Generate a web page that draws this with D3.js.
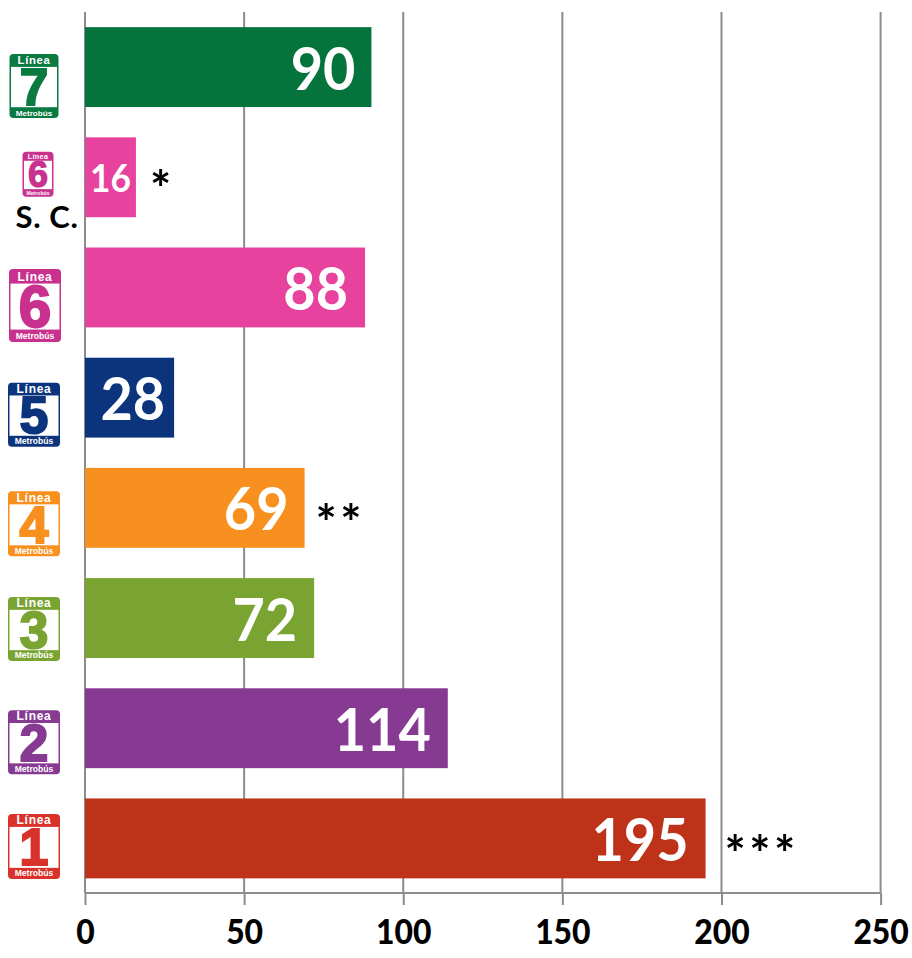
<!DOCTYPE html>
<html>
<head>
<meta charset="utf-8">
<script src="https://cdn.jsdelivr.net/npm/d3@7"></script>
<style>
html, body { margin: 0; padding: 0; background: #fff; }
svg { display: block; }
text { font-family: Lato, "Open Sans", sans-serif; font-weight: 700; }
</style>
</head>
<body>
<div id="chart"></div>
<script>
// Data, top to bottom
let lines = ["7", "6 S. C.", "6", "5", "4", "3", "2", "1"];
let values = [90, 16, 88, 28, 69, 72, 114, 195];
let notes = ["", "*", "", "", "**", "", "", "***"];
let barColors = ["#05733c", "#e8429f", "#e8429f", "#0c347d", "#f7901e", "#7aa432", "#873a92", "#bf321a"];
let badgeColors = ["#0a7a41", "#c9318f", "#c9318f", "#0c347d", "#f7901e", "#7aa432", "#873a92", "#d8322a"];
let ticks = [0, 50, 100, 150, 200, 250];

// badge box: width, height, centre x, offset from bar centre
let badgeBoxes = [
    [49, 64, 34, 19],
    [31, 45, 38, -3],
    [52, 73, 35, 18],
    [52, 64, 34, 17],
    [52, 65, 34, 16],
    [52, 64, 34, 11],
    [52, 64, 34, 14],
    [52, 65, 34, 8]
];
// note placement: gap after the bar, offset from bar centre
let noteOffsets = [[0, 0], [14, 30], [0, 0], [0, 0], [11, 33], [0, 0], [0, 0], [19, 34]];
// gap between the value label and the bar end
let labelGaps = [16, 5, 17, 9, 16, 17, 17, 17];

//dimensions
let width = 912;
let height = 958;

let svg = d3.select("#chart")
    .append("svg")
    .attr("width", width)
    .attr("height", height);

let x = d3.scaleLinear().domain([0, 250]).range([85, 880.6]);
let y = d3.scaleBand()
    .domain(lines)
    .range([12, 893.5])
    .paddingInner(0.275)
    .paddingOuter(0.1375);

/**
 * Grid lines and axis
 */
let axis = d3.axisBottom(x)
    .tickValues(ticks)
    .tickSize(12)
    .tickPadding(14)
    .tickFormat(d3.format("d"));

let axisG = svg.append("g")
    .attr("transform", "translate(0,893)")
    .call(axis);
axisG.select(".domain").attr("stroke", "#8c8c8c").attr("stroke-width", 2).attr("d", "M85,0H880");
axisG.selectAll(".tick line").attr("stroke", "#8c8c8c").attr("stroke-width", 2);
axisG.selectAll(".tick text")
    .attr("fill", "#000")
    .attr("transform", "scale(0.91,1)")
    .style("font-size", "35px")
    .style("font-family", "Lato, sans-serif")
    .style("font-weight", 900);

svg.append("g")
    .selectAll("line")
    .data(ticks)
    .enter()
    .append("line")
    .attr("x1", function (d) { return x(d); })
    .attr("x2", function (d) { return x(d); })
    .attr("y1", 12)
    .attr("y2", 893)
    .attr("stroke", "#8c8c8c")
    .attr("stroke-width", 2);

/**
 * Bars and value labels
 */
svg.append("g")
    .selectAll("rect")
    .data(lines)
    .enter()
    .append("rect")
    .attr("x", x(0))
    .attr("y", function (d) { return y(d); })
    .attr("width", function (d, i) { return x(values[i]) - x(0); })
    .attr("height", y.bandwidth())
    .attr("fill", function (d, i) { return barColors[i]; });

svg.append("g")
    .selectAll("text")
    .data(lines)
    .enter()
    .append("text")
    .attr("transform", function (d, i) {
        return "translate(" + (x(values[i]) - labelGaps[i]) + "," + (y(d) + y.bandwidth() / 2 + 1) + ") scale(0.93,1)";
    })
    .attr("dy", "0.36em")
    .attr("text-anchor", "end")
    .attr("fill", "#fff")
    .style("font-size", function (d, i) { return i === 1 ? "38px" : "60px"; })
    .text(function (d, i) { return values[i]; });

// asterisk notes
svg.append("g")
    .selectAll("text")
    .data(lines)
    .enter()
    .append("text")
    .attr("x", function (d, i) { return x(values[i]) + noteOffsets[i][0]; })
    .attr("y", function (d, i) { return y(d) + y.bandwidth() / 2 + noteOffsets[i][1]; })
    .attr("letter-spacing", "3.5px")
    .attr("fill", "#000")
    .style("font-size", "50px")
    .text(function (d, i) { return notes[i]; });

/**
 * Line badges next to each bar
 */
let badges = svg.append("g")
    .selectAll("g")
    .data(lines)
    .enter()
    .append("g")
    .attr("transform", function (d, i) {
        let b = badgeBoxes[i];
        return "translate(" + (b[2] - b[0] / 2) + "," + (y(d) + y.bandwidth() / 2 + b[3] - b[1] / 2) + ")";
    });

badges.append("rect")
    .attr("width", function (d, i) { return badgeBoxes[i][0]; })
    .attr("height", function (d, i) { return badgeBoxes[i][1]; })
    .attr("rx", 4)
    .attr("fill", function (d, i) { return badgeColors[i]; });

badges.append("rect")
    .attr("x", 1.5)
    .attr("y", function (d, i) { return badgeBoxes[i][1] * 0.2; })
    .attr("width", function (d, i) { return badgeBoxes[i][0] - 3; })
    .attr("height", function (d, i) { return badgeBoxes[i][1] * 0.63; })
    .attr("fill", "#fff");

badges.append("text")
    .attr("x", function (d, i) { return badgeBoxes[i][0] / 2; })
    .attr("y", function (d, i) { return badgeBoxes[i][1] * 0.16; })
    .attr("text-anchor", "middle")
    .attr("fill", "#fff")
    .attr("letter-spacing", "0.06em")
    .style("font-family", "'Liberation Sans', sans-serif")
    .style("font-size", function (d, i) { return badgeBoxes[i][0] * 0.23 + "px"; })
    .text("Línea");

badges.append("text")
    .attr("x", function (d, i) { return badgeBoxes[i][0] / 2; })
    .attr("y", function (d, i) { return badgeBoxes[i][1] * 0.79; })
    .attr("text-anchor", "middle")
    .attr("fill", function (d, i) { return badgeColors[i]; })
    .attr("stroke", function (d, i) { return badgeColors[i]; })
    .attr("stroke-width", function (d, i) { return badgeBoxes[i][0] * 0.04; })
    .style("font-family", "'Liberation Sans', sans-serif")
    .style("font-weight", 700)
    .style("font-size", function (d, i) { return badgeBoxes[i][1] * 0.8 + "px"; })
    .text(function (d) { return d.charAt(0); });

badges.append("text")
    .attr("x", function (d, i) { return badgeBoxes[i][0] / 2; })
    .attr("y", function (d, i) { return badgeBoxes[i][1] * 0.96; })
    .attr("text-anchor", "middle")
    .attr("fill", "#fff")
    .style("font-family", "'Liberation Sans', sans-serif")
    .style("font-size", function (d, i) { return badgeBoxes[i][0] * 0.165 + "px"; })
    .text("Metrobús");

// S. C. caption under the small badge
svg.append("text")
    .attr("x", 47)
    .attr("y", y("6 S. C.") + y.bandwidth() / 2 + 51)
    .attr("text-anchor", "middle")
    .attr("letter-spacing", "0.6px")
    .attr("fill", "#000")
    .style("font-size", "31px")
    .text("S. C.");
</script>
</body>
</html>
